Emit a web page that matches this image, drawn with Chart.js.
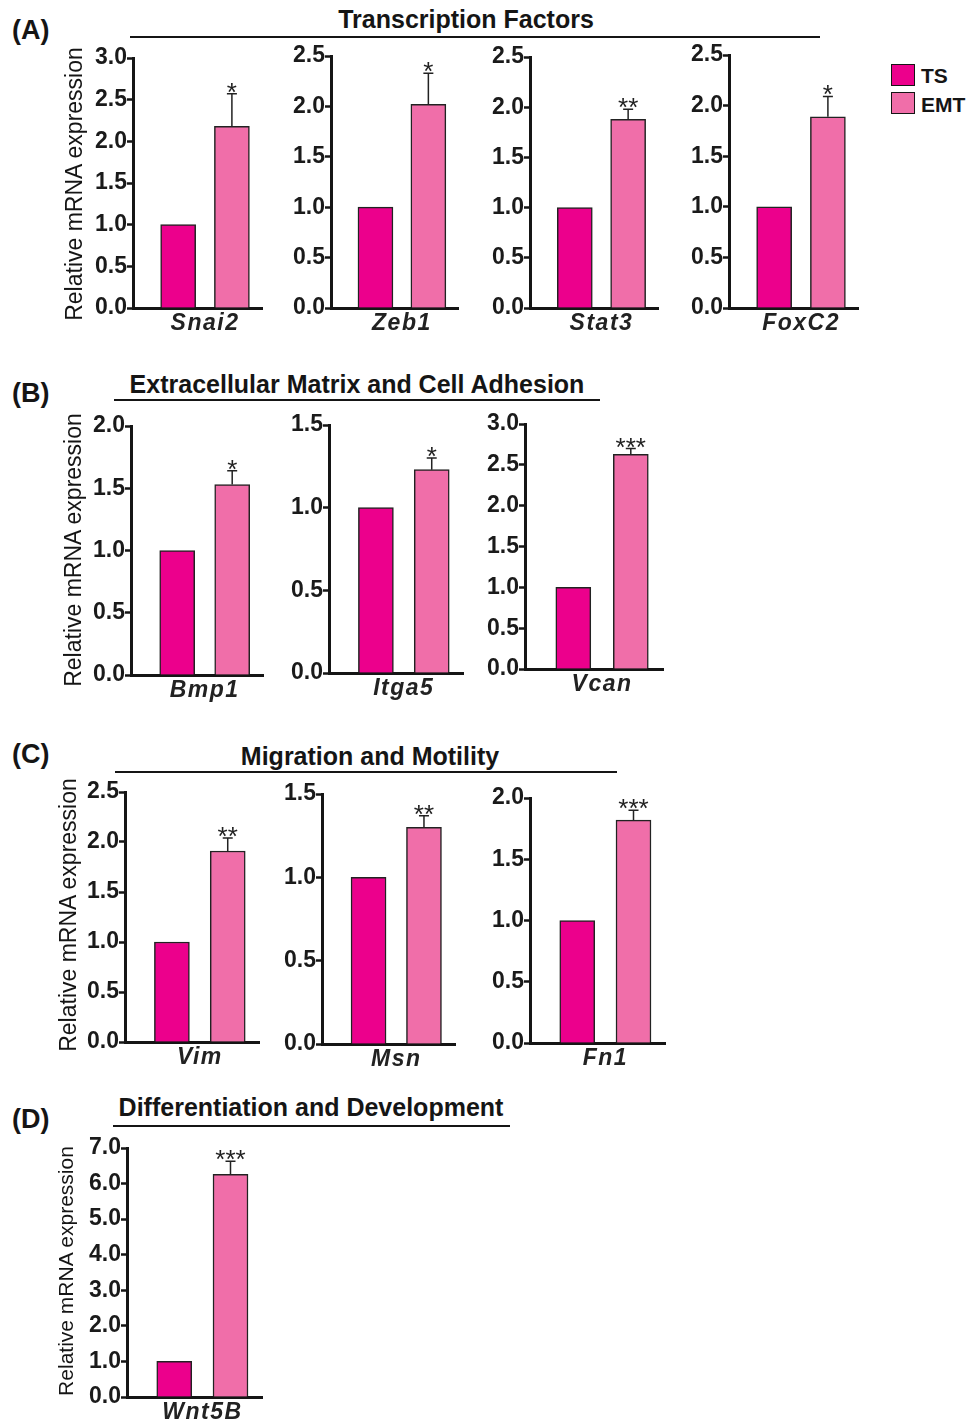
<!DOCTYPE html>
<html>
<head>
<meta charset="utf-8">
<title>Relative mRNA expression, TS vs EMT</title>
<script src="https://cdn.jsdelivr.net/npm/chart.js@4.4.1/dist/chart.umd.min.js"></script>
<style>
    body { margin: 0; background: #fff; width: 975px; height: 1422px; position: relative; overflow: hidden;
           font-family: 'Liberation Sans', Arial, sans-serif; color: #151515; }
    canvas.plot { position: absolute; }
    .letter { position: absolute; font-weight: bold; font-size: 27px; line-height: 27px; }
    .section { position: absolute; font-weight: bold; font-size: 25px; line-height: 25px; white-space: nowrap; transform: translateX(-50%); }
    .rule { position: absolute; height: 2px; background: #151515; }
    .ytitle { position: absolute; font-size: 22px; line-height: 22px; white-space: nowrap; transform: translate(-50%, -50%) rotate(-90deg); }
    .legend-box { position: absolute; width: 22px; height: 20px; border: 1.5px solid #151515; }
    .legend-text { position: absolute; font-weight: bold; font-size: 21px; line-height: 21px; }
</style>
</head>
<body>
<script>
// Series
const seriesNames = ['TS', 'EMT'];
const seriesColors = ['#EC008C', '#F06EA9'];

// One entry per gene (panels A-D, left to right)
const genes = ['Snai2', 'Zeb1', 'Stat3', 'FoxC2', 'Bmp1', 'Itga5', 'Vcan', 'Vim', 'Msn', 'Fn1', 'Wnt5B'];
const tsValues = [1, 1, 1, 1, 1, 1, 1, 1, 1, 1, 1];
const emtValues = [2.18, 2.02, 1.88, 1.89, 1.53, 1.23, 2.63, 1.91, 1.30, 1.82, 6.26];
const emtErrors = [0.39, 0.31, 0.10, 0.20, 0.11, 0.07, 0.07, 0.13, 0.07, 0.08, 0.37];
const stars = ['*', '*', '**', '*', '*', '*', '***', '**', '**', '***', '***'];

// Y axis ticks
const yMax = [3.0, 2.5, 2.5, 2.5, 2.0, 1.5, 3.0, 2.5, 1.5, 2.0, 7.0];
const yStep = [0.5, 0.5, 0.5, 0.5, 0.5, 0.5, 0.5, 0.5, 0.5, 0.5, 1.0];

// Section headings
const panelLetters = ['(A)', '(B)', '(C)', '(D)'];
const panelTitles = ['Transcription Factors', 'Extracellular Matrix and Cell Adhesion',
                     'Migration and Motility', 'Differentiation and Development'];
const yTitle = 'Relative mRNA expression';

// Layout (pixels): [y axis x, top tick y, zero y, x axis end]
const boxes = [
    [133, 58, 308, 262], [331, 56, 308, 458], [530, 57, 308, 658], [729, 55, 308, 858],
    [131, 426, 675, 263], [329, 425, 673, 463], [525, 424, 669, 663],
    [125, 792, 1042, 259], [322, 794, 1044, 455], [530, 798, 1043, 665],
    [127, 1148, 1397, 262]
];
// [letter top, title centre x, title top, rule x0, rule x1, rule y, y title x, y title y, y title size]
const panelLayout = [
    [17, 466, 7, 130, 820, 36, 74, 184, 23],
    [380, 357, 372, 114, 600, 399, 73, 550, 23],
    [741, 370, 744, 115, 617, 771, 68, 915, 23],
    [1106, 311, 1095, 113, 510, 1125, 65, 1271, 21]
];

const YW = 50, PT = 16, PR = 4, XH = 34;

function addDiv(cls, text, style) {
    const d = document.createElement('div');
    d.className = cls;
    d.textContent = text;
    Object.assign(d.style, style);
    document.body.appendChild(d);
    return d;
}

// Error bar, significance stars and gene name
const markPlugin = {
    id: 'marks',
    afterDatasetsDraw(chart, args, opts) {
        const ctx = chart.ctx;
        const bar = chart.getDatasetMeta(1).data[0];
        const top = chart.scales.y.getPixelForValue(opts.value + opts.error);
        ctx.save();
        ctx.strokeStyle = '#222';
        ctx.lineWidth = 1.5;
        ctx.beginPath();
        ctx.moveTo(bar.x, bar.y);
        ctx.lineTo(bar.x, top);
        ctx.moveTo(bar.x - 5, top);
        ctx.lineTo(bar.x + 5, top);
        ctx.stroke();
        ctx.fillStyle = '#222';
        ctx.textAlign = 'center';
        ctx.font = '26px "Liberation Sans"';
        ctx.fillText(opts.star, bar.x, top + 7);
        ctx.font = 'italic bold 23px "Liberation Sans"';
        ctx.letterSpacing = '1.5px';
        ctx.fillText(opts.gene, chart.scales.x.getPixelForValue(1.5), chart.chartArea.bottom + 22);
        ctx.restore();
    }
};

genes.forEach((gene, i) => {
    const [ax, ty, zy, ex] = boxes[i];
    const canvas = document.createElement('canvas');
    canvas.className = 'plot';
    canvas.width = YW + (ex - ax) + PR;
    canvas.height = PT + (zy - ty) + XH;
    canvas.style.left = (ax - YW) + 'px';
    canvas.style.top = (ty - PT) + 'px';
    document.body.appendChild(canvas);

    new Chart(canvas, {
        type: 'bar',
        data: {
            datasets: [
                { label: seriesNames[0], data: [{ x: 1, y: tsValues[i] }], backgroundColor: seriesColors[0],
                  borderColor: '#222', borderWidth: 1.5 },
                { label: seriesNames[1], data: [{ x: 2, y: emtValues[i] }], backgroundColor: seriesColors[1],
                  borderColor: '#222', borderWidth: 1.5 }
            ]
        },
        options: {
            responsive: false,
            animation: false,
            events: [],
            layout: { padding: { top: PT, left: 0, right: PR, bottom: 0 } },
            datasets: { bar: { grouped: false, barThickness: 35 } },
            plugins: {
                legend: { display: false },
                tooltip: { enabled: false },
                marks: { value: emtValues[i], error: emtErrors[i], star: stars[i], gene: gene }
            },
            scales: {
                x: {
                    type: 'linear', min: 0.16, max: 2.56, offset: false,
                    ticks: { display: false },
                    grid: { display: false },
                    border: { color: '#151515', width: 3 },
                    afterFit: s => { s.height = XH; }
                },
                y: {
                    min: 0, max: yMax[i],
                    ticks: {
                        stepSize: yStep[i], padding: 0, color: '#1a1a1a',
                        font: { family: 'Liberation Sans', weight: 'bold', size: 23 },
                        callback: v => Number(v).toFixed(1)
                    },
                    grid: { drawOnChartArea: false, tickLength: 6, tickWidth: 2.5, tickColor: '#151515' },
                    border: { color: '#151515', width: 3 },
                    afterFit: s => { s.width = YW; }
                }
            }
        },
        plugins: [markPlugin]
    });
});

// Panel letters, headings, rules and y titles
panelLetters.forEach((letter, p) => {
    const [lt, tcx, tt, rx0, rx1, ry, yx, yy, ys] = panelLayout[p];
    addDiv('letter', letter, { left: '12px', top: lt + 'px' });
    addDiv('section', panelTitles[p], { left: tcx + 'px', top: tt + 'px' });
    addDiv('rule', '', { left: rx0 + 'px', width: (rx1 - rx0) + 'px', top: ry + 'px' });
    addDiv('ytitle', yTitle, { left: yx + 'px', top: yy + 'px', fontSize: ys + 'px', lineHeight: ys + 'px' });
});

// Legend
seriesNames.forEach((name, k) => {
    addDiv('legend-box', '', { left: '891px', top: (64 + k * 28) + 'px', background: seriesColors[k] });
    addDiv('legend-text', name, { left: '921px', top: (65 + k * 29) + 'px' });
});
</script>
</body>
</html>
